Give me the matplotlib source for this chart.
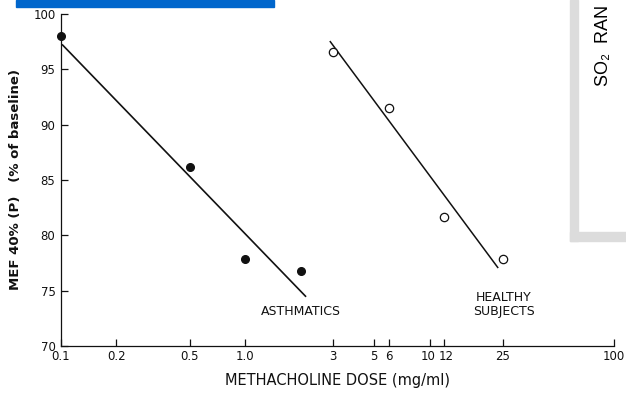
import matplotlib
matplotlib.use("Agg")
import matplotlib.pyplot as plt
from matplotlib.patches import Rectangle
from matplotlib.transforms import ScaledTranslation

# dose (mg/ml) and MEF 40% (P), % of baseline
asth_dose = [0.1, 0.5, 1.0, 2.0]
asth_mef = [98.0, 86.2, 77.9, 76.8]
asth_fit_dose = [0.102, 2.12]
asth_fit_mef = [97.2, 74.5]

healthy_dose = [3, 6, 12, 25]
healthy_mef = [96.6, 91.5, 81.7, 77.9]
healthy_fit_dose = [2.89, 23.4]
healthy_fit_mef = [97.5, 77.1]

x_ticks = [0.1, 0.2, 0.5, 1.0, 3, 5, 6, 10, 12, 25, 100]
x_tick_labels = ["0.1", "0.2", "0.5", "1.0", "3", "5", "6", "10", "12", "25", "100"]
y_ticks = [70, 75, 80, 85, 90, 95, 100]

ink = "#111111"
plt.rcParams["font.family"] = ["DejaVu Sans"]

fig = plt.figure(figsize=(6.26, 3.94), dpi=100)
ax = fig.add_axes([61 / 626, 1 - 346 / 394, (614 - 61) / 626, (346 - 14) / 394])

ax.plot(asth_fit_dose, asth_fit_mef, color=ink, lw=1.2)
ax.plot(asth_dose, asth_mef, "o", color=ink, ms=5.5, clip_on=False)
ax.plot(healthy_fit_dose, healthy_fit_mef, color=ink, lw=1.1)
ax.plot(healthy_dose, healthy_mef, "o", mfc="white", mec=ink, mew=0.9, ms=6, clip_on=False)

ax.set_xscale("log")
ax.set_xlim(0.1, 100)
ax.set_ylim(70, 100)
ax.set_xticks(x_ticks)
ax.set_xticklabels(x_tick_labels)
ax.minorticks_off()
ax.set_yticks(y_ticks)
ax.tick_params(direction="in", length=5, width=0.9, colors=ink, labelsize=8.5, pad=3)
ax.tick_params(axis="y", pad=4)

# spread the crowded 10 / 12 labels apart a little
labels = ax.get_xticklabels()
for lab, dx in [(labels[7], -2), (labels[8], 2)]:
    lab.set_transform(lab.get_transform() + ScaledTranslation(dx / 100, 0, fig.dpi_scale_trans))

for side in ["top", "right"]:
    ax.spines[side].set_visible(False)
for side in ["left", "bottom"]:
    ax.spines[side].set_linewidth(0.9)
    ax.spines[side].set_color(ink)

ax.set_xlabel("METHACHOLINE DOSE (mg/ml)", fontsize=10.5, color=ink, labelpad=7)
ax.set_ylabel("MEF 40% (P)   (% of baseline)", fontsize=9.5, color=ink,
              fontweight="bold", labelpad=8)

ax.text(2.0, 73.1, "ASTHMATICS", fontsize=9, color=ink, ha="center", va="center")
ax.text(25.3, 73.75, "HEALTHY\nSUBJECTS", fontsize=9, color=ink, ha="center",
        va="center", linespacing=1.1)

# blue strip at the top and the grey-framed panel on the right
fig.patches.append(Rectangle((16 / 626, 1 - 7 / 394), 258 / 626, 7 / 394,
                             transform=fig.transFigure, color="#0066CC", zorder=5))
fig.patches.append(Rectangle((570 / 626, 1 - 241 / 394), 8 / 626, 241 / 394,
                             transform=fig.transFigure, color="#DCDCDC", zorder=5))
fig.patches.append(Rectangle((570 / 626, 1 - 241 / 394), 56 / 626, 9 / 394,
                             transform=fig.transFigure, color="#DCDCDC", zorder=5))
fig.text(603 / 626, 1 - 86 / 394, "SO\u2082  RAN", rotation=90, ha="center", va="bottom",
         fontsize=13, family=["Liberation Sans", "DejaVu Sans"], color="black")

fig.savefig("out.png", dpi=100)
